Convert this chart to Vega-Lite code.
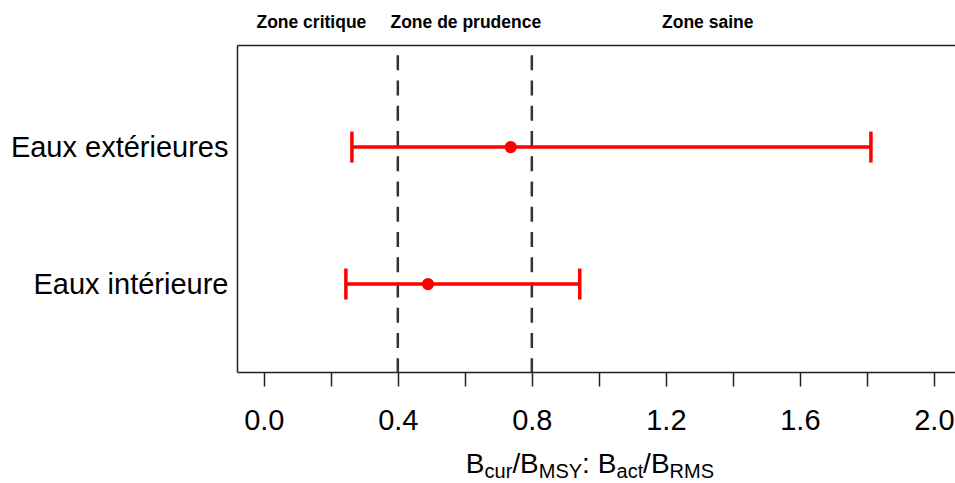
{
  "$schema": "https://vega.github.io/schema/vega-lite/v6.json",
  "autosize": {"type": "none"},
  "padding": {"left": 237, "top": 45, "right": 0, "bottom": 111},
  "width": 718,
  "height": 327,
  "background": "white",
  "config": {"view": {"stroke": null}},
  "datasets": {
    "series": [
      {"zone": "Eaux extérieures", "pos": 2, "lower": 0.263, "est": 0.737, "upper": 1.812},
      {"zone": "Eaux intérieure", "pos": 1, "lower": 0.245, "est": 0.490, "upper": 0.943}
    ],
    "thresholds": [{"x": 0.4}, {"x": 0.8}],
    "zones": [
      {"label": "Zone critique", "x": 0.142},
      {"label": "Zone de prudence", "x": 0.603},
      {"label": "Zone saine", "x": 1.325}
    ],
    "title_main": [
      {"t": "B", "x": 0.603},
      {"t": "/", "x": 0.742},
      {"t": "B", "x": 0.765},
      {"t": ":", "x": 0.950},
      {"t": "B", "x": 0.997},
      {"t": "/", "x": 1.132},
      {"t": "B", "x": 1.156}
    ],
    "title_sub": [
      {"t": "cur", "x": 0.659},
      {"t": "MSY", "x": 0.821},
      {"t": "act", "x": 1.053},
      {"t": "RMS", "x": 1.211}
    ]
  },
  "resolve": {"axis": {"x": "independent", "y": "independent"}},
  "layer": [
    {
      "data": {"name": "thresholds"},
      "mark": {"type": "rule", "color": "#333333", "strokeWidth": 2.5, "strokeDash": [15, 10.25], "strokeDashOffset": 15},
      "encoding": {
        "x": {
          "field": "x", "type": "quantitative",
          "scale": {"domain": [-0.08, 2.063], "nice": false, "zero": false},
          "axis": {
            "orient": "bottom",
            "values": [0, 0.2, 0.4, 0.6, 0.8, 1.0, 1.2, 1.4, 1.6, 1.8, 2.0],
            "labelExpr": "abs(datum.value/0.4 - round(datum.value/0.4)) < 0.01 ? format(datum.value, '.1f') : ''",
            "title": null,
            "grid": false,
            "tickSize": 14,
            "tickColor": "#222222",
            "tickWidth": 1.5,
            "domainColor": "#222222",
            "domainWidth": 1.5,
            "labelFont": "Liberation Sans",
            "labelFontSize": 29,
            "labelColor": "#000000",
            "labelPadding": 20,
            "labelFlush": false,
            "labelOverlap": false
          }
        }
      }
    },
    {
      "data": {"name": "series"},
      "mark": {"type": "rule", "color": "#FF0000", "strokeWidth": 3.5},
      "encoding": {
        "x": {"field": "lower", "type": "quantitative", "axis": {"orient": "top", "labels": false, "ticks": false, "title": null, "grid": false, "domainColor": "#222222", "domainWidth": 1.5}},
        "x2": {"field": "upper"},
        "y": {
          "field": "pos", "type": "quantitative",
          "scale": {"domain": [0.358, 2.745], "nice": false, "zero": false},
          "axis": {
            "orient": "left",
            "values": [1, 2],
            "labelExpr": "datum.value == 2 ? 'Eaux extérieures' : 'Eaux intérieure'",
            "title": null,
            "grid": false,
            "ticks": false,
            "labelPadding": 9,
            "labelLimit": 0,
            "labelFont": "Liberation Sans",
            "labelFontSize": 29,
            "labelColor": "#000000",
            "domainColor": "#222222",
            "domainWidth": 1.5
          }
        }
      }
    },
    {
      "data": {"name": "series"},
      "mark": {"type": "tick", "orient": "vertical", "color": "#FF0000", "size": 31, "thickness": 3.5, "opacity": 1},
      "encoding": {
        "x": {"field": "lower", "type": "quantitative", "axis": null},
        "y": {"field": "pos", "type": "quantitative", "axis": null}
      }
    },
    {
      "data": {"name": "series"},
      "mark": {"type": "tick", "orient": "vertical", "color": "#FF0000", "size": 31, "thickness": 3.5, "opacity": 1},
      "encoding": {
        "x": {"field": "upper", "type": "quantitative", "axis": null},
        "y": {"field": "pos", "type": "quantitative", "axis": null}
      }
    },
    {
      "data": {"name": "series"},
      "mark": {"type": "circle", "color": "#FF0000", "size": 150, "opacity": 1},
      "encoding": {
        "x": {"field": "est", "type": "quantitative", "axis": null},
        "y": {"field": "pos", "type": "quantitative", "axis": null}
      }
    },
    {
      "data": {"name": "zones"},
      "mark": {"type": "text", "font": "Liberation Sans", "fontWeight": "bold", "fontSize": 17.5, "align": "center", "baseline": "middle", "color": "#000000"},
      "encoding": {
        "x": {"field": "x", "type": "quantitative", "axis": null},
        "y": {"datum": 2.905, "type": "quantitative", "axis": null},
        "text": {"field": "label"}
      }
    },
    {
      "data": {"name": "title_main"},
      "mark": {"type": "text", "font": "Liberation Sans", "fontSize": 28, "align": "left", "baseline": "alphabetic", "color": "#000000"},
      "encoding": {
        "x": {"field": "x", "type": "quantitative", "axis": null},
        "y": {"datum": -0.379, "type": "quantitative", "axis": null},
        "text": {"field": "t"}
      }
    },
    {
      "data": {"name": "title_sub"},
      "mark": {"type": "text", "font": "Liberation Sans", "fontSize": 20, "align": "left", "baseline": "alphabetic", "color": "#000000"},
      "encoding": {
        "x": {"field": "x", "type": "quantitative", "axis": null},
        "y": {"datum": -0.416, "type": "quantitative", "axis": null},
        "text": {"field": "t"}
      }
    }
  ]
}
